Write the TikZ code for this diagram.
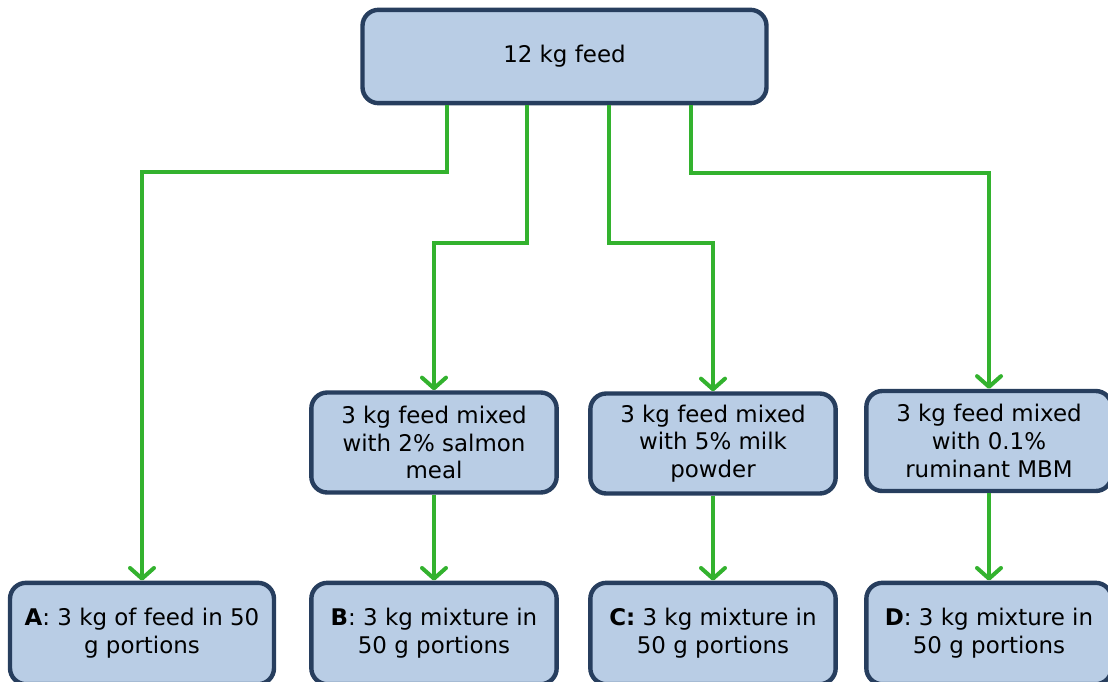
\documentclass[tikz,border=0pt]{standalone}
\usepackage{fontspec}
\setmainfont{DejaVu Sans}
\usepackage{xcolor}
\usetikzlibrary{arrows.meta,calc}

\definecolor{boxfill}{RGB}{185,205,229}
\definecolor{boxline}{RGB}{39,62,94}
\definecolor{flowgreen}{RGB}{51,178,46}

\begin{document}
\begin{tikzpicture}[x=0.75pt, y=-0.75pt, inner sep=0pt]
    \tikzstyle{feedbox}=[rectangle, rounded corners=12pt, fill=boxfill, draw=boxline, line width=3.3pt, text=black, align=center, font=\fontsize{17.2}{20.8}\selectfont]
    \tikzstyle{mixbox}=[feedbox, minimum width=184pt, minimum height=75pt]
    \tikzstyle{outbox}=[feedbox, minimum width=184pt, minimum height=76pt]
    \tikzstyle{flow}=[draw=flowgreen, line width=3pt, -{Straight Barb[length=8pt,width=18pt,round]}]

    \useasboundingbox (0,0) rectangle (1108,682);

    \node[feedbox, minimum width=303pt, minimum height=70pt] (feed) at (564.5,56.5) {\raisebox{-3pt}{12 kg feed}};

    \node[mixbox] (Bmix) at (434,442.5) {3 kg feed mixed\\with 2\% salmon\\meal};
    \node[mixbox] (Cmix) at (713,443.5) {3 kg feed mixed\\with 5\% milk\\powder};
    \node[mixbox] (Dmix) at (989,441) {3 kg feed mixed\\with 0.1\%\\ruminant MBM};

    \node[outbox, minimum width=198pt] (Aout) at (142,633.5) {\textbf{A}: 3 kg of feed in 50\\g portions};
    \node[outbox] (Bout) at (434,633.5) {\textbf{B}: 3 kg mixture in\\50 g portions};
    \node[outbox] (Cout) at (713,633.5) {\textbf{C:} 3 kg mixture in\\50 g portions};
    \node[outbox] (Dout) at (989,633.5) {\textbf{D}: 3 kg mixture in\\50 g portions};

    \draw[flow] ($(feed.south)+(-117.5,0)$) -- ++(0,67) -| (Aout.north);
    \draw[flow] ($(feed.south)+(-37.5,0)$) -- ++(0,138) -| (Bmix.north);
    \draw[flow] ($(feed.south)+(44.5,0)$) -- ++(0,138) -| (Cmix.north);
    \draw[flow] ($(feed.south)+(126.5,0)$) -- ++(0,68) -| (Dmix.north);

    \draw[flow] (Bmix) -- (Bout);
    \draw[flow] (Cmix) -- (Cout);
    \draw[flow] (Dmix) -- (Dout);
\end{tikzpicture}
\end{document}
